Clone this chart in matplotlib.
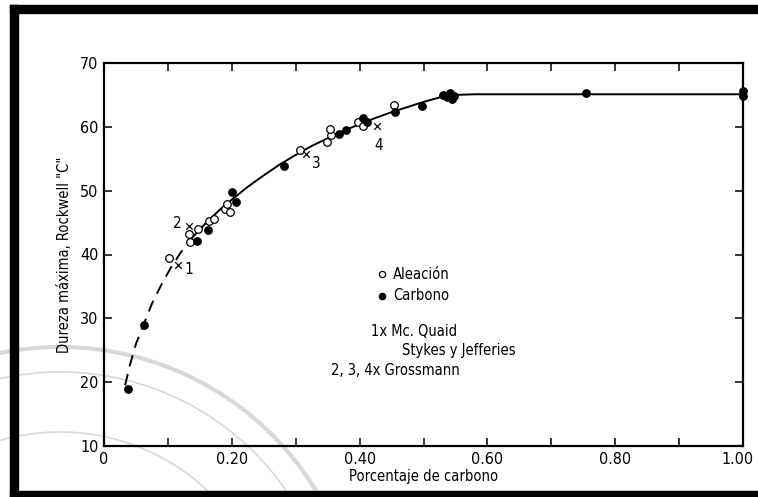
import matplotlib
matplotlib.use("Agg")
import matplotlib.pyplot as plt
from matplotlib.patches import Rectangle, Arc
import matplotlib.transforms as mtransforms
import numpy as np

plt.rcParams['font.family'] = ['DejaVu Sans']
plt.rcParams['font.stretch'] = 'condensed'

# ---- data ----
carbono_x = [0.038, 0.062, 0.146, 0.163, 0.201, 0.207, 0.282, 0.368, 0.378, 0.406,
             0.412, 0.455, 0.497, 0.531, 0.537, 0.542, 0.548, 0.545, 0.755, 1.0, 1.0]
carbono_y = [19.0, 28.9, 42.1, 43.9, 49.8, 48.3, 53.9, 58.8, 59.5, 61.4,
             60.8, 62.4, 63.2, 65.0, 64.6, 65.3, 64.8, 64.3, 65.3, 65.6, 64.8]

aleacion_x = [0.101, 0.133, 0.135, 0.147, 0.165, 0.172, 0.190, 0.193, 0.197,
              0.306, 0.349, 0.356, 0.353, 0.397, 0.405, 0.454]
aleacion_y = [39.5, 43.2, 42.0, 44.0, 45.3, 45.6, 47.1, 47.9, 46.6,
              56.3, 57.6, 58.7, 59.6, 60.7, 60.1, 63.4]

cruz_x = [0.116, 0.133, 0.316, 0.427]
cruz_y = [38.4, 44.5, 55.8, 60.1]
cruz_labels = ["1", "2", "3", "4"]

curva_dash_x = [0.033, 0.040, 0.050, 0.062, 0.075, 0.090, 0.105, 0.120, 0.135]
curva_dash_y = [19.5, 22.5, 26.0, 29.0, 32.3, 35.3, 38.0, 40.3, 42.3]
curva_x = [0.135, 0.160, 0.180, 0.200, 0.225, 0.250, 0.275, 0.300, 0.325, 0.350,
           0.375, 0.400, 0.425, 0.450, 0.475, 0.500, 0.525, 0.550, 0.580, 0.800, 1.0]
curva_y = [42.3, 45.0, 46.9, 48.6, 50.6, 52.4, 54.1, 55.6, 57.0, 58.2,
           59.4, 60.4, 61.4, 62.3, 63.1, 63.9, 64.6, 65.0, 65.1, 65.1, 65.1]

xticks = [0, 0.2, 0.4, 0.6, 0.8, 1.0]
xticklabels = ["0", "0.20", "0.40", "0.60", "0.80", "1.00"]
yticks = [10, 20, 30, 40, 50, 60, 70]

W, H = 758, 497
fig = plt.figure(figsize=(W/100, H/100), dpi=100)
fig.patch.set_facecolor('white')

# faint watermark seal arcs (background decoration)
wm = '#d8d8d8'
cx, cy = 60, -150  # pixel centre (from bottom-left)
for r, lw in [(300, 3.0), (275, 1.2), (215, 1.2)]:
    fig.add_artist(Arc((cx/W, cy/H), 2*r/W, 2*r/H, theta1=20, theta2=110,
                       ec=wm, lw=lw, transform=fig.transFigure, zorder=0))

ax = fig.add_axes([104/W, 1-446/H, (743-104)/W, (446-63)/H])
ax.set_facecolor('none')
ax.set_xlim(0, 1.0)
ax.set_ylim(10, 70)

ax.plot(curva_dash_x, curva_dash_y, color='black', lw=1.4, ls=(0, (6, 4)), zorder=2)
ax.plot(curva_x, curva_y, color='black', lw=1.4, zorder=2, clip_on=False)

ax.scatter(aleacion_x, aleacion_y, s=30, facecolors='white', edgecolors='black',
           linewidths=0.9, zorder=3, clip_on=False)
ax.scatter(carbono_x, carbono_y, s=28, color='black', zorder=4, clip_on=False)
ax.scatter(cruz_x, cruz_y, s=22, marker='x', color='black', linewidths=0.9, zorder=4)

offs = [(0.010, -0.8), (-0.025, 0.4), (0.010, -1.6), (-0.004, -3.0)]
for x, y, t, (dx, dy) in zip(cruz_x, cruz_y, cruz_labels, offs):
    ax.text(x + dx, y + dy, t, fontsize=11, ha='left', va='center')

# legend-like annotation block
ax.scatter([0.435], [36.9], s=20, facecolors='white', edgecolors='black', linewidths=0.9)
ax.scatter([0.435], [33.5], s=20, color='black')
ax.text(0.452, 36.9, "Aleación", fontsize=10.5, va='center')
ax.text(0.452, 33.5, "Carbono", fontsize=10.5, va='center')
ax.text(0.418, 27.9, "1x Mc. Quaid", fontsize=10.5, va='center')
ax.text(0.466, 24.9, "Stykes y Jefferies", fontsize=10.5, va='center')
ax.text(0.355, 21.9, "2, 3, 4x Grossmann", fontsize=10.5, va='center')

ax.set_xticks(xticks)
ax.set_xticklabels(xticklabels)
ax.set_xticks(np.arange(0.1, 1.0, 0.2), minor=True)
ax.set_yticks(yticks)
ax.tick_params(which='both', direction='in', length=6, width=1.1,
               top=True, right=True, labelsize=11.5, pad=4)
for s in ax.spines.values():
    s.set_linewidth(1.6)

# shift the last x tick label slightly left so it stays in the picture
last = ax.get_xticklabels()[-1]
last.set_transform(last.get_transform() +
                   mtransforms.ScaledTranslation(-5/100, 0, fig.dpi_scale_trans))

ax.set_xlabel("Porcentaje de carbono", fontsize=10.5, labelpad=2)
ax.set_ylabel("Dureza máxima, Rockwell \"C\"", fontsize=10.5, labelpad=6)

# scanned black frame
fig.add_artist(Rectangle((10/W, 0), 8/W, 1 - 5/H, color='black',
                         transform=fig.transFigure, zorder=10))
fig.add_artist(Rectangle((10/W, 1 - 13/H), 1, 8/H, color='black',
                         transform=fig.transFigure, zorder=10))
fig.add_artist(Rectangle((10/W, 0), 1, 6/H, color='black',
                         transform=fig.transFigure, zorder=10))

fig.savefig("out.png", dpi=100)
